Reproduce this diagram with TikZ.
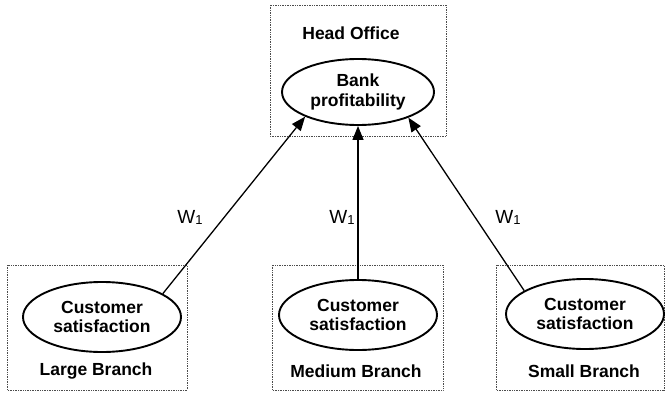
\documentclass[tikz,border=0pt]{standalone}
\usepackage{fontspec}
\setmainfont{Liberation Sans}
\usetikzlibrary{shapes.geometric,arrows.meta}
\begin{document}
\begin{tikzpicture}[x=1pt,y=-1pt,
  unitbox/.style={draw=black!70,line width=0.7pt,densely dotted},
  goal/.style={ellipse,draw,line width=1.9pt,minimum width=158pt,minimum height=70pt,
    inner sep=0pt,align=center,font=\fontsize{17.5}{19.5}\selectfont\bfseries},
  unitlabel/.style={font=\fontsize{17.5}{19.5}\selectfont\bfseries},
  link/.style={line width=1.3pt,-{Triangle[length=14pt,width=11pt]}},
  weight/.style={font=\fontsize{19}{21}\selectfont}]
\useasboundingbox (0,0) rectangle (668,396);

% organisational units
\draw[unitbox] (270,5) rectangle (446,136);
\draw[unitbox] (7,265) rectangle (187,390);
\draw[unitbox] (272,265) rectangle (443,390);
\draw[unitbox] (496,265) rectangle (664,390);

\node[unitlabel] (lho) at (351,33) {Head Office};
\node[unitlabel] (llb) at (96,371) {Large Branch};
\node[unitlabel] (lmb) at (356,371) {Medium Branch};
\node[unitlabel] (lsb) at (584,371) {Small Branch};

% performance measures
\node[goal,minimum width=152pt,minimum height=66pt] (head) at (358,92) {Bank\\profitability};
\node[goal] (large) at (102,317) {Customer\\satisfaction};
\node[goal] (medium) at (358,315) {Customer\\satisfaction};
\node[goal] (small) at (585,314) {Customer\\satisfaction};

% weighted links
\draw[link] (large.21) -- (head.205);
\draw[link] (medium.north) -- (head.south);
\draw[link] (small.159) -- (head.333);

\node[weight] (w1) at (190,217) {W{\fontsize{13}{15}\selectfont\raisebox{-0.15ex}{1}}};
\node[weight] (w2) at (342,217) {W{\fontsize{13}{15}\selectfont\raisebox{-0.15ex}{1}}};
\node[weight] (w3) at (508,217) {W{\fontsize{13}{15}\selectfont\raisebox{-0.15ex}{1}}};
\end{tikzpicture}
\end{document}
